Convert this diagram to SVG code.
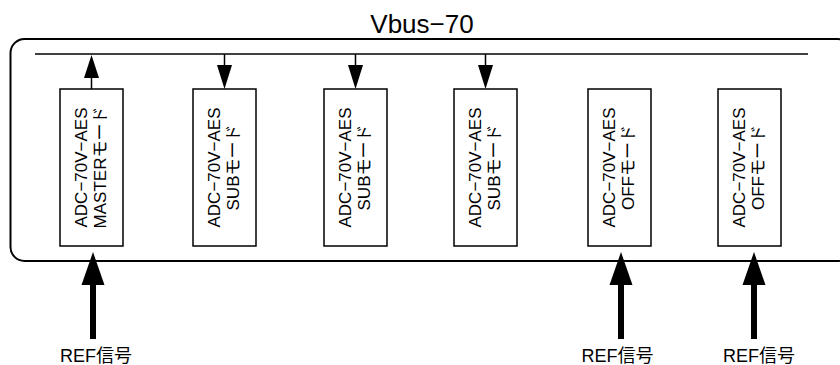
<svg xmlns="http://www.w3.org/2000/svg" width="840" height="365" viewBox="0 0 840 365">
<style>
text{font-family:"Liberation Sans","Noto Sans CJK JP",sans-serif;fill:#000}
.box{fill:#fff;stroke:#000;stroke-width:1.5}
.bt{font-size:17px;text-anchor:middle}
.lbl{font-size:18px;text-anchor:middle}
.thin{stroke:#000;stroke-width:1.5;fill:none}
.thick{stroke:#000;stroke-width:6;fill:none}
.head{fill:#000;stroke:none}
</style>
<rect width="840" height="365" fill="#fff"/>
<g id="frame">
<rect x="10.5" y="39" width="841" height="222" rx="14" ry="14" fill="none" stroke="#000" stroke-width="2"/>
<text x="422" y="33" style="font-size:26px;text-anchor:middle">Vbus−70</text>
<line x1="35" y1="54" x2="808" y2="54" class="thin"/>
</g>
<g id="n1"><rect class="box" x="60" y="89" width="63" height="157"/>
<text class="bt" transform="translate(91.5,167.5) rotate(-90)"><tspan x="0" y="-5">ADC−70V−AES</tspan><tspan x="0" y="14">MASTERモード</tspan></text></g>
<g id="n2"><rect class="box" x="193" y="89" width="63" height="157"/>
<text class="bt" transform="translate(224.5,167.5) rotate(-90)"><tspan x="0" y="-5">ADC−70V−AES</tspan><tspan x="0" y="14">SUBモード</tspan></text></g>
<g id="n3"><rect class="box" x="324" y="89" width="63" height="157"/>
<text class="bt" transform="translate(355.5,167.5) rotate(-90)"><tspan x="0" y="-5">ADC−70V−AES</tspan><tspan x="0" y="14">SUBモード</tspan></text></g>
<g id="n4"><rect class="box" x="454" y="89" width="63" height="157"/>
<text class="bt" transform="translate(485.5,167.5) rotate(-90)"><tspan x="0" y="-5">ADC−70V−AES</tspan><tspan x="0" y="14">SUBモード</tspan></text></g>
<g id="n5"><rect class="box" x="588" y="89" width="63" height="157"/>
<text class="bt" transform="translate(619.5,167.5) rotate(-90)"><tspan x="0" y="-5">ADC−70V−AES</tspan><tspan x="0" y="14">OFFモード</tspan></text></g>
<g id="n6"><rect class="box" x="718" y="89" width="63" height="157"/>
<text class="bt" transform="translate(749.5,167.5) rotate(-90)"><tspan x="0" y="-5">ADC−70V−AES</tspan><tspan x="0" y="14">OFFモード</tspan></text></g>
<g id="connectors">
<line class="thin" x1="91.5" y1="89" x2="91.5" y2="77"/>
<polygon class="head" points="91.5,55 84,78 99,78"/>
<line class="thin" x1="224.5" y1="54" x2="224.5" y2="66"/>
<polygon class="head" points="224.5,89 217,65 232,65"/>
<line class="thin" x1="355.5" y1="54" x2="355.5" y2="66"/>
<polygon class="head" points="355.5,89 348,65 363,65"/>
<line class="thin" x1="485.5" y1="54" x2="485.5" y2="66"/>
<polygon class="head" points="485.5,89 478,65 493,65"/>
<line class="thick" x1="93" y1="339" x2="93" y2="283"/>
<polygon class="head" points="93,252 81.5,285 104.5,285"/>
<line class="thick" x1="621" y1="339" x2="621" y2="283"/>
<polygon class="head" points="621,252 609.5,285 632.5,285"/>
<line class="thick" x1="754" y1="339" x2="754" y2="283"/>
<polygon class="head" points="754,252 742.5,285 765.5,285"/>
</g>
<g id="labels">
<text class="lbl" x="96" y="362">REF信号</text>
<text class="lbl" x="617.5" y="362">REF信号</text>
<text class="lbl" x="759" y="362">REF信号</text>
</g>
</svg>
